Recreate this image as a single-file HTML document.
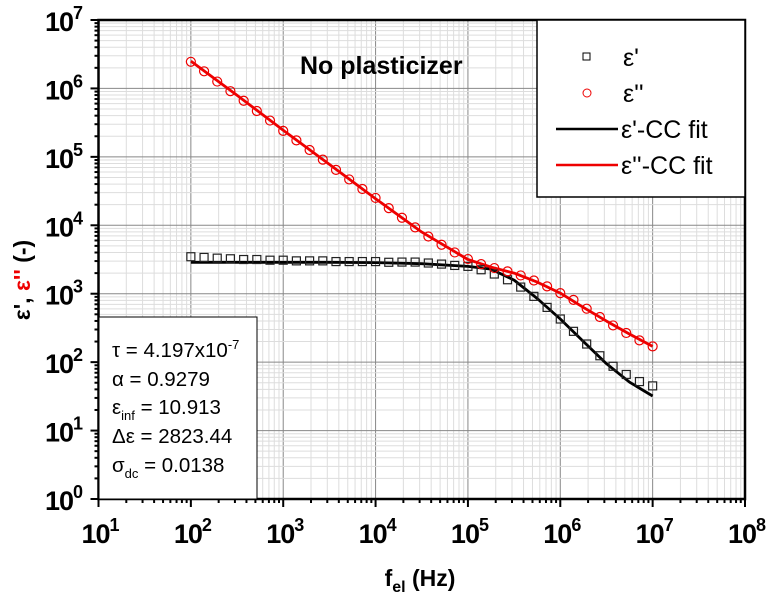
<!DOCTYPE html>
<html><head><meta charset="utf-8"><style>
html,body{margin:0;padding:0;background:#fff;}
svg{display:block;font-family:"Liberation Sans",Arial,sans-serif;}
</style></head><body>
<svg id="chart" width="770" height="605" viewBox="0 0 770 605">
<g id="grid"></g>
<g id="marks"></g>
<g id="axes"></g>
<text x="300" y="74" font-size="25" font-weight="bold">No plasticizer</text>
<g>
<rect x="537" y="20" width="208" height="177" fill="#fff" stroke="#000" stroke-width="1.5"/>
<g><rect x="583" y="53" width="7" height="7" fill="none" stroke="#000"/><text x="623" y="66" font-size="25">ε'</text></g>
<g><circle cx="587" cy="93" r="4" fill="none" stroke="#e00"/><text x="623" y="102" font-size="25">ε''</text></g>
<g><line x1="556" y1="129" x2="618" y2="129" stroke="#000" stroke-width="2.5"/><text x="621" y="138" font-size="25">ε'-CC fit</text></g>
<g><line x1="556" y1="165" x2="618" y2="165" stroke="#e00" stroke-width="2.5"/><text x="621" y="174" font-size="25">ε''-CC fit</text></g>
</g>
<g>
<rect x="99" y="317" width="158" height="182" fill="#fff" stroke="#000" stroke-width="1"/>
<text x="112" y="357" font-size="20.5">τ = 4.197x10<tspan dy="-8" font-size="13">-7</tspan></text>
<text x="112" y="386" font-size="20.5">α = 0.9279</text>
<text x="112" y="414" font-size="20.5">ε<tspan dy="6" font-size="13">inf</tspan><tspan dy="-6"> = 10.913</tspan></text>
<text x="112" y="443" font-size="20.5">Δε = 2823.44</text>
<text x="112" y="472" font-size="20.5">σ<tspan dy="6" font-size="13">dc</tspan><tspan dy="-6"> = 0.0138</tspan></text>
</g>
<text transform="translate(30,280) rotate(-90)" text-anchor="middle" font-size="23" font-weight="bold">ε', <tspan fill="#e00">ε''</tspan> (-)</text>
<text x="420" y="586" text-anchor="middle" font-size="23" font-weight="bold">f<tspan dy="6" font-size="16">el</tspan><tspan dy="-6"> (Hz)</tspan></text>
</svg>
<script>
const xTickExps = [1,2,3,4,5,6,7,8];
const yTickExps = [0,1,2,3,4,5,6,7];
const freqs = [100,139,193,268,373,518,720,1000,1389,1931,2683,3728,5179,7197,10000,13895,19307,26827,37276,51795,71969,100000,138950,193070,268270,372760,517950,719690,1000000,1389500,1930700,2682700,3727600,5179500,7196900,10000000];
const eps1 = [3470,3390,3310,3240,3160,3160,3090,3090,3020,3020,3020,2950,2950,2950,2950,2880,2900,2900,2810,2710,2590,2510,2240,1940,1600,1250,915,631,427,282,184,124,87,66,52,45];
const eps2 = [2450000,1780000,1260000,912000,661000,468000,339000,240000,174000,126000,91200,64600,46800,33900,25100,17800,12900,9330,6860,5190,4010,3210,2710,2370,2120,1850,1560,1280,1020,813,604,457,344,267,208,170];
const fitFreqs = [100,316,1000,3162,10000,31623,100000,177830,316230,562340,1000000,1778300,3162300,5623400,10000000];
const fit1 = [2880,2880,2880,2880,2850,2750,2510,2290,1580,850,427,200,95,51,32];
const fit2 = [2510000,794000,245000,77600,24500,7940,3160,2450,2000,1480,1020,630,398,257,170];
const X0=98.5, X1=745, Y0=499, Y1=20;
const xs = f => X0 + (Math.log10(f)-1)*(X1-X0)/7;
const ys = v => Y0 - Math.log10(v)*(Y0-Y1)/7;
const NS="http://www.w3.org/2000/svg";
function mk(tag, attrs, parent){const e=document.createElementNS(NS,tag);for(const k in attrs)e.setAttribute(k,attrs[k]);parent.appendChild(e);return e;}
const grid=document.getElementById('grid'), marks=document.getElementById('marks'), axes=document.getElementById('axes');
for(let d=1; d<8; d++){ for(let m=1;m<10;m++){ const x=xs(m*Math.pow(10,d)); const g=mk('line',{x1:x,y1:Y1,x2:x,y2:Y0,stroke:m==1?'#888':'#ddd','stroke-width':1},grid);

 } }
for(let d=0; d<7; d++){ for(let m=1;m<10;m++){ const y=ys(m*Math.pow(10,d)); const g=mk('line',{x1:X0,y1:y,x2:X1,y2:y,stroke:m==1?'#888':'#ddd','stroke-width':1},grid);

 } }
function path(fx, fy, color, name){ const d=fx.map((f,i)=>(i?'L':'M')+xs(f).toFixed(1)+','+ys(fy[i]).toFixed(1)).join(''); const p=mk('path',{d:d,fill:'none',stroke:color,'stroke-width':2.8,'stroke-linejoin':'round'},marks);

 }
path(fitFreqs, fit1, '#000', 'eps1-fit-line');
path(fitFreqs, fit2, '#e00', 'eps2-fit-line');
freqs.forEach((f,i)=>{
 const r=mk('rect',{x:xs(f)-4,y:ys(eps1[i])-4,width:8,height:8,fill:'none',stroke:'#222','stroke-width':1.2},marks);
 
 
 const c=mk('circle',{cx:xs(f),cy:ys(eps2[i]),r:4.5,fill:'none',stroke:'#e00','stroke-width':1.2},marks);
 
 
});
mk('rect',{x:X0,y:Y1,width:X1-X0,height:Y0-Y1,fill:'none',stroke:'#000','stroke-width':2.5},axes);
for(let d=1; d<8; d++){ for(let m=1;m<10;m++){ const x=xs(m*Math.pow(10,d)); const L=m==1?8:4;
 mk('line',{x1:x,y1:Y0,x2:x,y2:Y0+L,stroke:'#000','stroke-width':2},axes); } }
mk('line',{x1:X1,y1:Y0,x2:X1,y2:Y0+8,stroke:'#000','stroke-width':2},axes);
for(let d=0; d<7; d++){ for(let m=1;m<10;m++){ const y=ys(m*Math.pow(10,d)); const L=m==1?8:4;
 mk('line',{x1:X0,y1:y,x2:X0-L,y2:y,stroke:'#000','stroke-width':2},axes); } }
mk('line',{x1:X0,y1:Y1,x2:X0-8,y2:Y1,stroke:'#000','stroke-width':2},axes);
xTickExps.forEach(e=>{ const t=mk('text',{x:xs(Math.pow(10,e))-17,y:543,'font-size':27,'font-weight':'bold','letter-spacing':'-1'},axes);
 
 
 t.innerHTML='10<tspan dy="-12" font-size="18">'+e+'</tspan>'; });
yTickExps.forEach(e=>{ const t=mk('text',{x:45,y:ys(Math.pow(10,e))+11,'font-size':27,'font-weight':'bold','letter-spacing':'-1'},axes);
 
 
 t.innerHTML='10<tspan dy="-12" font-size="18">'+e+'</tspan>'; });
</script>
</body></html>
